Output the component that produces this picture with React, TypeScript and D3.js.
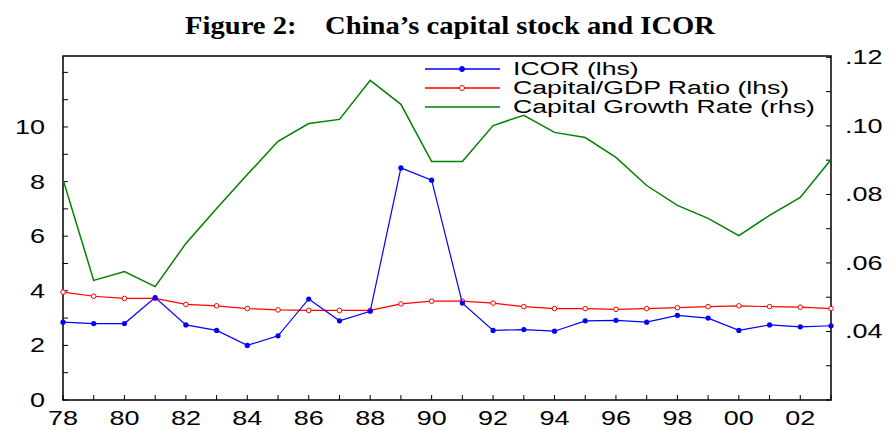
import * as d3 from "d3";
import React from "react";

const years = d3.range(1978, 2004);
const icor = [2.85, 2.8, 2.8, 3.75, 2.75, 2.55, 2.0, 2.35, 3.7, 2.9, 3.25, 8.5, 8.05, 3.55, 2.55, 2.58, 2.52, 2.9, 2.92, 2.85, 3.1, 3.0, 2.55, 2.75, 2.68, 2.72];
const capGdp = [3.95, 3.8, 3.72, 3.72, 3.5, 3.45, 3.35, 3.3, 3.28, 3.28, 3.28, 3.52, 3.62, 3.62, 3.55, 3.42, 3.35, 3.35, 3.32, 3.35, 3.38, 3.42, 3.45, 3.42, 3.4, 3.35];
const growth = [0.0844, 0.0549, 0.0575, 0.0531, 0.0657, 0.0759, 0.0858, 0.0955, 0.1007, 0.1019, 0.1133, 0.1063, 0.0896, 0.0896, 0.1001, 0.1031, 0.0981, 0.0966, 0.0908, 0.0826, 0.0768, 0.073, 0.068, 0.0739, 0.0791, 0.0902];
const leftTicks = [0, 2, 4, 6, 8, 10];
const rightTicks = [0.04, 0.06, 0.08, 0.1, 0.12];
const xLabels = d3.range(1978, 2004, 2);

const W = 896, H = 430;
const m = { l: 63, r: 65, t: 56, b: 30 };
const SX = 1.35;

// horizontally stretched text, as in the reference
const T: React.FC<{ x: number; y: number; anchor?: string; size: number; sx?: number; children: React.ReactNode }> = ({ x, y, anchor, size, sx = SX, children }) => (
  <g transform={`translate(${x},${y}) scale(${sx},1)`}>
    <text textAnchor={anchor} fontFamily="Arial, 'Liberation Sans', sans-serif" fontSize={size}>{children}</text>
  </g>
);

export default function App() {
  const x = d3.scaleLinear().domain([1978, 2003]).range([m.l, W - m.r]);
  const yl = d3.scaleLinear().domain([0, 12.6]).range([H - m.b, m.t]);
  const yr = d3.scaleLinear().domain([0.02, 0.1204]).range([H - m.b, m.t]);
  const line = (vals: number[], y: d3.ScaleLinear<number, number>) =>
    d3.line<number>().x((_, i) => x(years[i])).y((d) => y(d))(vals) || "";
  const legend = [
    { t: "ICOR (lhs)", c: "#0000ff", dot: true, fill: true },
    { t: "Capital/GDP Ratio (lhs)", c: "#ff0000", dot: true, fill: false },
    { t: "Capital Growth Rate (rhs)", c: "#008000", dot: false, fill: false },
  ];
  return (
    <svg width={W} height={H} style={{ position: "absolute", left: 0, top: 0 }}>
      <rect width={W} height={H} fill="#fff" />
      <g transform="translate(450,34) scale(1.1,1)">
        <text textAnchor="middle" fontFamily="'Liberation Serif', 'Times New Roman', serif" fontWeight="bold" fontSize={26} xmlSpace="preserve">
          Figure 2:    China’s capital stock and ICOR
        </text>
      </g>
      <rect x={m.l} y={m.t} width={W - m.l - m.r} height={H - m.t - m.b} fill="none" stroke="#000" strokeWidth={1.5} />
      {years.map((yv) => (
        <line key={yv} x1={x(yv)} x2={x(yv)} y1={H - m.b} y2={H - m.b - 5} stroke="#000" />
      ))}
      {xLabels.map((yv) => (
        <T key={yv} x={x(yv)} y={H - m.b + 25} anchor="middle" size={20}>
          {String(yv % 100).padStart(2, "0")}
        </T>
      ))}
      {d3.range(0, 13).map((v) => (
        <line key={v} x1={m.l} x2={m.l + 5} y1={yl(v)} y2={yl(v)} stroke="#000" />
      ))}
      {leftTicks.map((v) => (
        <T key={v} x={m.l - 18} y={yl(v) + 7} anchor="end" size={20}>{v}</T>
      ))}
      {d3.range(0.02, 0.121, 0.01).map((v) => (
        <line key={v} x1={W - m.r} x2={W - m.r - 5} y1={yr(v)} y2={yr(v)} stroke="#000" />
      ))}
      {rightTicks.map((v) => (
        <T key={v} x={W - m.r + 14} y={yr(v) + 7} size={20}>
          {d3.format(".2f")(v).replace(/^0/, "")}
        </T>
      ))}
      <path d={line(growth, yr)} fill="none" stroke="#008000" strokeWidth={1.5} />
      <path d={line(capGdp, yl)} fill="none" stroke="#ff0000" strokeWidth={1.2} />
      {capGdp.map((v, i) => (
        <circle key={i} cx={x(years[i])} cy={yl(v)} r={2.3} fill="#fff" stroke="#ff0000" strokeWidth={1} />
      ))}
      <path d={line(icor, yl)} fill="none" stroke="#0000ff" strokeWidth={1.2} />
      {icor.map((v, i) => (
        <circle key={i} cx={x(years[i])} cy={yl(v)} r={2.6} fill="#0000ff" />
      ))}
      {legend.map((l, i) => (
        <g key={l.t} transform={`translate(425, ${69 + i * 19})`}>
          <line x1={0} x2={75} stroke={l.c} strokeWidth={1.3} />
          {l.dot && <circle cx={37} r={2.5} fill={l.fill ? l.c : "#fff"} stroke={l.c} />}
          <T x={88} y={6} size={18} sx={1.48}>{l.t}</T>
        </g>
      ))}
    </svg>
  );
}
